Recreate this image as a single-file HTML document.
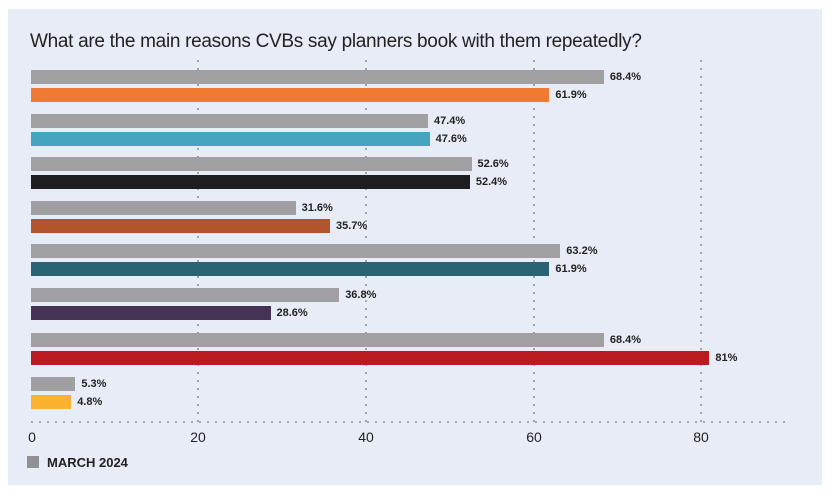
<!DOCTYPE html>
<html><head><style>
body{margin:0;background:#fff;width:832px;height:498px;position:relative;overflow:hidden;font-family:"Liberation Sans",sans-serif}
#p{position:absolute;left:8px;top:9px;width:814px;height:476px;background:#e7ecf6}
.t{position:absolute;left:30px;top:31px;font-size:19px;color:#222;letter-spacing:-0.3px}
.b{position:absolute;left:31px;height:14px}
.l{position:absolute;font-size:11px;font-weight:bold;color:#222;line-height:14px}
.g{position:absolute;top:60px;height:362px;width:2px;background:repeating-linear-gradient(to bottom,#a3a8b0 0 2px,transparent 2px 8px)}
.ax{position:absolute;left:31px;top:421px;width:760px;height:2px;background:repeating-linear-gradient(to right,#a3a8b0 0 2px,transparent 2px 8px)}
.tk{position:absolute;top:429px;font-size:14px;color:#222;transform:translateX(-50%)}
</style></head><body>
<div id="p"></div>
<div class="t">What are the main reasons CVBs say planners book with them repeatedly?</div>
<div class="g" style="left:197px"></div>
<div class="g" style="left:365px"></div>
<div class="g" style="left:533px"></div>
<div class="g" style="left:700px"></div>
<div class="ax"></div>
<div class="tk" style="left:32px">0</div>
<div class="tk" style="left:198px">20</div>
<div class="tk" style="left:366px">40</div>
<div class="tk" style="left:534px">60</div>
<div class="tk" style="left:701px">80</div>
<div id="bars"></div>
<div style="position:absolute;left:27px;top:456px;width:12px;height:12px;background:#8f9194"></div>
<div style="position:absolute;left:47px;top:455px;font-size:13px;font-weight:bold;color:#222">MARCH 2024</div>
<script>
var d=[[68.4,61.9,"#f07a32"],[47.4,47.6,"#45a5c0"],[52.6,52.4,"#1e1d1f"],[31.6,35.7,"#b2552d"],[63.2,61.9,"#2a6373"],[36.8,28.6,"#443354"],[68.4,81,"#bb1a22"],[5.3,4.8,"#fbb22e"]];
var tops=[70,114,157,201,244,288,333,377],h="";
d.forEach(function(r,i){
 [[r[0],"#a0a0a2",tops[i]],[r[1],r[2],tops[i]+17.5]].forEach(function(b){
  var w=b[0]*8.375;
  h+='<div class="b" style="top:'+b[2]+'px;width:'+w+'px;background:'+b[1]+'"></div>';
  h+='<div class="l" style="top:'+b[2]+'px;left:'+(31+w+6)+'px">'+b[0]+'%</div>';
 });
});
document.getElementById("bars").innerHTML=h;
</script>
</body></html>
